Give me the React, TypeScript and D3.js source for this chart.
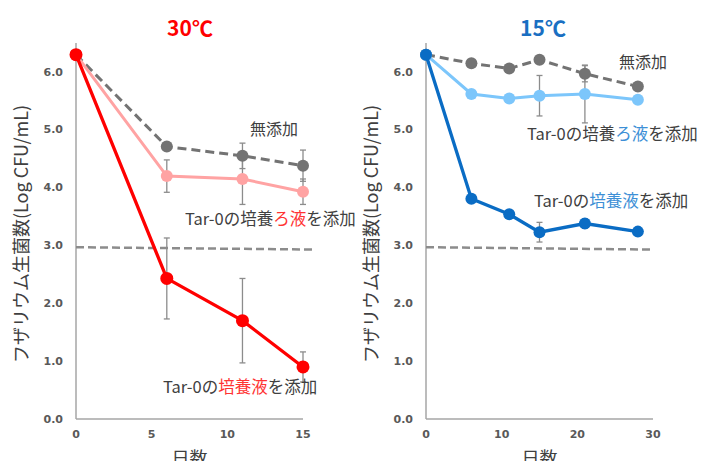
import React from "react";
import * as d3 from "d3";

// ---- data ----
const daysL = [0, 6, 11, 15];
const ctrlL = [6.3, 4.71, 4.55, 4.38];
const ctrlLErr = [0, 0, 0.22, 0.27];
const filtL = [6.3, 4.2, 4.15, 3.93];
const filtLErr = [0, 0.28, 0.44, 0.22];
const cultL = [6.3, 2.43, 1.7, 0.9];
const cultLErr = [0, 0.7, 0.73, 0.26];

const daysR = [0, 6, 11, 15, 21, 28];
const ctrlR = [6.3, 6.15, 6.06, 6.21, 5.97, 5.75];
const ctrlRErr = [0, 0, 0, 0, 0.14, 0];
const filtR = [6.3, 5.62, 5.54, 5.59, 5.62, 5.52];
const filtRErr = [0, 0, 0, 0.35, 0.5, 0];
const cultR = [6.3, 3.81, 3.54, 3.23, 3.38, 3.24];
const cultRErr = [0, 0, 0, 0.17, 0.08, 0];

const yTicks = [0, 1, 2, 3, 4, 5, 6];
const xTicksL = [0, 5, 10, 15];
const xTicksR = [0, 10, 20, 30];
const threshL = { x: [0, 15.8], y: [2.97, 2.93] };
const threshR = { x: [0, 30], y: [2.97, 2.93] };

const JP = "'Noto Sans CJK JP', 'Noto Sans', sans-serif";
const TICKF = "'DejaVu Sans', Verdana, sans-serif";
const TXT = "#404040";

type Series = { v: number[]; e: number[]; color: string; dash?: string; width: number; r: number };

function Panel(props: {
  days: number[];
  xDomain: [number, number];
  xRange: [number, number];
  xTicks: number[];
  series: Series[];
  thresh: { x: number[]; y: number[] };
  yLabelX: number;
  tickLabelX: number;
}) {
  const { days, xDomain, xRange, xTicks, series, thresh, yLabelX, tickLabelX } = props;
  const x = d3.scaleLinear().domain(xDomain).range(xRange);
  const y = d3.scaleLinear().domain([0, 6]).range([419, 72]);
  const line = d3
    .line<number>()
    .x((_, i) => x(days[i]))
    .y((d) => y(d));
  const tl = d3
    .line<number>()
    .x((d) => x(d))
    .y((_, i) => y(thresh.y[i]));
  return (
    <g>
      {/* axes */}
      <line x1={xRange[0]} x2={xRange[0]} y1={43} y2={y(0)} stroke="#a6a6a6" strokeWidth={1.5} />
      <line x1={xRange[0]} x2={xRange[1]} y1={y(0)} y2={y(0)} stroke="#a6a6a6" strokeWidth={1.5} />
      {yTicks.map((t) => (
        <text key={t} x={tickLabelX} y={y(t)} textAnchor="end" dominantBaseline="central" fontFamily={TICKF} fontWeight="bold" fontSize={11} fill="#595959">
          {t.toFixed(1)}
        </text>
      ))}
      {xTicks.map((t) => (
        <text key={t} x={x(t)} y={434} textAnchor="middle" dominantBaseline="central" fontFamily={TICKF} fontWeight="bold" fontSize={11} fill="#595959">
          {t}
        </text>
      ))}
      <text x={(xRange[0] + xRange[1]) / 2} y={465} textAnchor="middle" fontFamily={JP} fontSize={18} fill={TXT}>
        日数
      </text>
      <text transform={`translate(${yLabelX},234) rotate(-90)`} textAnchor="middle" dominantBaseline="central" fontFamily={JP} fontSize={18} fill={TXT}>
        フザリウム生菌数(Log CFU/mL)
      </text>
      {/* threshold */}
      <path d={tl(thresh.x) || ""} stroke="#8c8c8c" strokeWidth={2.5} strokeDasharray="8,4" fill="none" />
      {/* error bars */}
      {series.map((s, si) =>
        s.v.map((v, i) =>
          s.e[i] > 0 ? (
            <g key={`e${si}-${i}`} stroke="#8c8c8c" strokeWidth={1.3}>
              <line x1={x(days[i])} x2={x(days[i])} y1={y(v + s.e[i])} y2={y(v - s.e[i])} />
              <line x1={x(days[i]) - 3} x2={x(days[i]) + 3} y1={y(v + s.e[i])} y2={y(v + s.e[i])} />
              <line x1={x(days[i]) - 3} x2={x(days[i]) + 3} y1={y(v - s.e[i])} y2={y(v - s.e[i])} />
            </g>
          ) : null
        )
      )}
      {/* lines & markers */}
      {series.map((s, si) => (
        <g key={`s${si}`}>
          <path d={line(s.v) || ""} stroke={s.color} strokeWidth={s.width} strokeDasharray={s.dash} fill="none" />
          {s.v.map((v, i) => (
            <circle key={i} cx={x(days[i])} cy={y(v)} r={s.r} fill={s.color} />
          ))}
        </g>
      ))}
    </g>
  );
}

export default function App() {
  const leftSeries: Series[] = [
    { v: ctrlL, e: ctrlLErr, color: "#737373", dash: "9,5", width: 3, r: 6 },
    { v: filtL, e: filtLErr, color: "#ffa3a3", width: 3, r: 6 },
    { v: cultL, e: cultLErr, color: "#ff0000", width: 3.3, r: 6.5 },
  ];
  const rightSeries: Series[] = [
    { v: ctrlR, e: ctrlRErr, color: "#737373", dash: "9,5", width: 3, r: 6 },
    { v: filtR, e: filtRErr, color: "#7cc6fb", width: 3, r: 6 },
    { v: cultR, e: cultRErr, color: "#0a6cc4", width: 3.3, r: 6 },
  ];
  return (
    <svg width={701} height={461} style={{ position: "absolute", left: 0, top: 0, background: "#fff" }}>
      <Panel days={daysL} xDomain={[0, 15]} xRange={[76, 303]} xTicks={xTicksL} series={leftSeries} thresh={threshL} yLabelX={20} tickLabelX={63} />
      <Panel days={daysR} xDomain={[0, 30]} xRange={[426, 653]} xTicks={xTicksR} series={rightSeries} thresh={threshR} yLabelX={370} tickLabelX={413} />
      {/* titles */}
      <text x={190} y={27} textAnchor="middle" dominantBaseline="central" fontFamily={JP} fontWeight="bold" fontSize={21} fill="#ff0000">30℃</text>
      <text x={543} y={27} textAnchor="middle" dominantBaseline="central" fontFamily={JP} fontWeight="bold" fontSize={21} fill="#1a6fc2">15℃</text>
      {/* annotations left */}
      <text x={250} y={128} dominantBaseline="central" fontFamily={JP} fontSize={16} fill={TXT}>無添加</text>
      <text x={185} y={218} dominantBaseline="central" fontFamily={JP} fontSize={16.5} fill={TXT}>
        Tar-0の培養<tspan fill="#ff3333">ろ液</tspan>を添加
      </text>
      <text x={163} y={386} dominantBaseline="central" fontFamily={JP} fontSize={16.5} fill={TXT}>
        Tar-0の<tspan fill="#ff3333">培養液</tspan>を添加
      </text>
      {/* annotations right */}
      <text x={619} y={61} dominantBaseline="central" fontFamily={JP} fontSize={16} fill={TXT}>無添加</text>
      <text x={527} y={133} dominantBaseline="central" fontFamily={JP} fontSize={16.5} fill={TXT}>
        Tar-0の培養<tspan fill="#3d8fd6">ろ液</tspan>を添加
      </text>
      <text x={534} y={200} dominantBaseline="central" fontFamily={JP} fontSize={16.5} fill={TXT}>
        Tar-0の<tspan fill="#3d8fd6">培養液</tspan>を添加
      </text>
    </svg>
  );
}
